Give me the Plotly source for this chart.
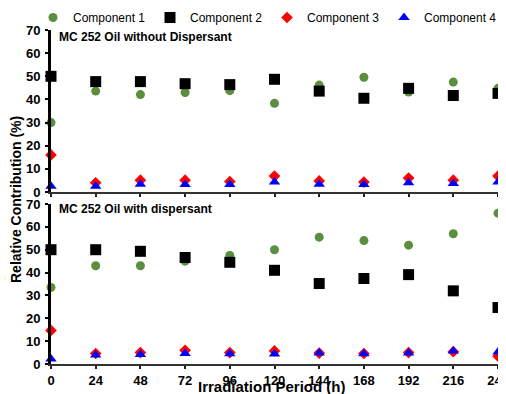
import plotly.graph_objects as go

hours = [0, 24, 48, 72, 96, 120, 144, 168, 192, 216, 240]

# MC 252 Oil without Dispersant
top_c1 = [30, 43.6, 42.1, 43.0, 43.8, 38.3, 46.2, 49.6, 43.2, 47.5, 44.8]
top_c2 = [50, 47.7, 47.7, 46.8, 46.4, 48.7, 43.6, 40.5, 44.8, 41.7, 42.6]
top_c3 = [16, 4.0, 5.1, 5.1, 4.5, 6.9, 4.8, 4.3, 6.0, 5.1, 6.9]
top_c4 = [2.5, 2.5, 3.4, 3.2, 3.2, 4.3, 3.4, 3.2, 4.0, 3.7, 4.3]

# MC 252 Oil with dispersant
bot_c1 = [33.5, 43.0, 43.0, 45.0, 47.5, 50.0, 55.5, 54.0, 52.0, 57.0, 66.0]
bot_c2 = [50, 50.0, 49.3, 46.6, 44.5, 41.0, 35.2, 37.4, 39.1, 32.0, 24.7]
bot_c3 = [14.7, 4.6, 5.0, 6.0, 5.0, 5.7, 4.8, 4.6, 5.0, 5.4, 3.4]
bot_c4 = [2.2, 3.9, 4.2, 4.6, 4.5, 4.4, 4.8, 4.5, 4.8, 5.7, 5.2]

names = ["Component 1", "Component 2", "Component 3", "Component 4"]
colors = ["#5B8E3E", "#000000", "#FF0000", "#0000FF"]
symbols = ["circle", "square", "diamond", "triangle-up"]
sizes = [9, 11, 9, 10]

# page body has an 8px margin: lay out in page pixels and shift
OX, OY = 8, 8
FW, FH = 498, 386


def px(x):
    return (x - OX) / FW


def py(y):
    return 1 - (y - OY) / FH


fig = go.Figure()

legend_ids = ["legend", "legend2", "legend3", "legend4"]
series_top = [top_c1, top_c2, top_c3, top_c4]
series_bot = [bot_c1, bot_c2, bot_c3, bot_c4]
for i in range(4):
    fig.add_trace(go.Scatter(x=hours, y=series_top[i], mode="markers", name=names[i],
                             marker=dict(color=colors[i], symbol=symbols[i], size=sizes[i]),
                             xaxis="x", yaxis="y", cliponaxis=False, showlegend=True,
                             legend=legend_ids[i]))
for i in range(4):
    fig.add_trace(go.Scatter(x=hours, y=series_bot[i], mode="markers", name=names[i],
                             marker=dict(color=colors[i], symbol=symbols[i], size=sizes[i]),
                             xaxis="x2", yaxis="y2", cliponaxis=False, showlegend=False))

xdom = [px(51), px(500)]
xr = [0, 240 + 2 / 447 * 240]
tickfont = dict(family="Liberation Sans", size=13, color="black", weight="bold")

common_x = dict(range=xr, domain=xdom, showgrid=False, zeroline=False, showline=True,
                linecolor="#333333", linewidth=2, ticks="outside", ticklen=3, tickwidth=2,
                tickcolor="#222222", tickvals=hours, fixedrange=True, automargin=False,
                ticklabeloverflow="allow", ticklabelstandoff=0)
common_y = dict(range=[0, 70], showgrid=False, zeroline=False, showline=True,
                linecolor="black", linewidth=3, ticks="outside", ticklen=3, tickwidth=2,
                tickcolor="black", tickvals=[0, 10, 20, 30, 40, 50, 60, 70],
                tickfont=tickfont, ticklabelstandoff=2, automargin=False)

legend_markers = [53, 170, 287, 404]
legend_layout = {}
for i, lid in enumerate(legend_ids):
    legend_layout[lid] = dict(x=px(legend_markers[i] - 20), y=py(3), xanchor="left", yanchor="top",
                              font=dict(family="Liberation Sans", size=12, color="black"),
                              bgcolor="rgba(0,0,0,0)", orientation="h")

fig.update_layout(
    width=FW, height=FH,
    margin=dict(l=0, r=0, t=0, b=0, autoexpand=False),
    paper_bgcolor="white", plot_bgcolor="white",
    xaxis=dict(common_x, anchor="y", showticklabels=False),
    yaxis=dict(common_y, domain=[py(192), py(30)], anchor="x"),
    xaxis2=dict(common_x, anchor="y2", showticklabels=True, tickfont=tickfont),
    yaxis2=dict(common_y, domain=[py(364), py(204)], anchor="x2"),
    annotations=[
        dict(text="MC 252 Oil without Dispersant", x=px(57), y=py(37), xref="paper", yref="paper",
             xanchor="left", yanchor="middle", showarrow=False,
             font=dict(family="Liberation Sans", size=12, color="black", weight="bold")),
        dict(text="MC 252 Oil with dispersant", x=px(57), y=py(209), xref="paper", yref="paper",
             xanchor="left", yanchor="middle", showarrow=False,
             font=dict(family="Liberation Sans", size=12, color="black", weight="bold")),
        dict(text="Relative Contribution (%)", x=px(16), y=py(200), xref="paper", yref="paper",
             xanchor="center", yanchor="middle", showarrow=False, textangle=-90,
             font=dict(family="Liberation Sans", size=14, color="black", weight="bold")),
        dict(text="Irradiation Period (h)", x=px(272), y=py(386), xref="paper", yref="paper",
             xanchor="center", yanchor="middle", showarrow=False,
             font=dict(family="Liberation Sans", size=15, color="black", weight="bold")),
    ],
    **legend_layout,
)

fig.write_html("out.html")
